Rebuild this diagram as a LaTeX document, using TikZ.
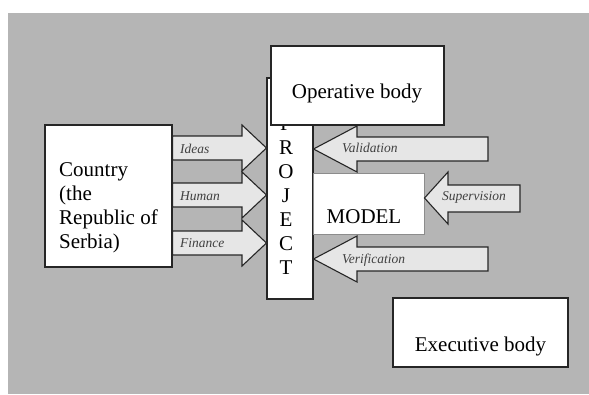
\documentclass[tikz,border=0pt]{standalone}
\usepackage{fontspec}
\setmainfont{Liberation Serif}
\definecolor{bggray}{HTML}{B5B5B5}
\definecolor{arrowgray}{HTML}{E6E6E6}
\definecolor{labelgray}{HTML}{404040}
\tikzset{
  box/.style={draw=black!85, line width=1.1pt, fill=white, inner sep=0pt},
  modelbox/.style={draw=black!45, line width=1pt, fill=white, inner sep=0pt},
  blockarrow/.style={draw=black!85, line width=1.1pt, fill=arrowgray, line join=miter},
  bigtext/.style={font=\fontsize{21}{24}\selectfont, inner sep=0pt},
  arrowtext/.style={font=\fontsize{13.5}{15}\selectfont\itshape, text=labelgray, inner sep=0pt, anchor=base west}
}
\begin{document}
\begin{tikzpicture}[x=1pt, y=-1pt]
      \useasboundingbox (0,0) rectangle (589,394);
      \fill[bggray] (8,13) rectangle (589,394);

      \node[box, minimum width=127pt, minimum height=142pt] (country) at (108.5,196) {};
      \node[bigtext, align=left, anchor=north west] (countrytext) at (59,162.8)
        {Country\\(the\\Republic of\\Serbia)};

      \node[box, minimum width=46pt, minimum height=221pt] (project) at (290,188.5) {};
      \node[bigtext, align=center, anchor=north] (projecttext) at (286,116.1)
        {P\\R\\O\\J\\E\\C\\T};

      \node[box, minimum width=173pt, minimum height=79pt] (operative) at (357.5,85.5) {};
      \node[bigtext, anchor=base] (operativetext) at (357,98) {Operative body};

      \node[modelbox, minimum width=111pt, minimum height=61pt] (model) at (368.5,203.5) {};
      \node[bigtext, anchor=base] (modeltext) at (364,223) {MODEL};

      \node[box, minimum width=175pt, minimum height=69pt] (executive) at (480.5,332.5) {};
      \node[bigtext, anchor=base] (executivetext) at (480.5,351) {Executive body};

      % inputs into the project
      \filldraw[blockarrow] (country.east |- 0,136) -| (242,125) -- (project.west |- 0,148)
        -- (242,171) |- (country.east |- 0,160) -- cycle;
      \filldraw[blockarrow] (country.east |- 0,183) -| (242,172) -- (project.west |- 0,195)
        -- (242,218) |- (country.east |- 0,207) -- cycle;
      \filldraw[blockarrow] (country.east |- 0,231) -| (242,220) -- (project.west |- 0,243)
        -- (242,266) |- (country.east |- 0,255) -- cycle;
      \node[arrowtext] (ideas) at (180,153) {Ideas};
      \node[arrowtext] (human) at (180,200) {Human};
      \node[arrowtext] (finance) at (180,247) {Finance};

      % controls
      \filldraw[blockarrow] (488,137) -| (357,126) -- (project.east |- 0,149)
        -- (357,172) |- (488,161) -- cycle;
      \filldraw[blockarrow] (520,185) -| (448,172) -- (model.east |- 0,198)
        -- (448,224) |- (520,212) -- cycle;
      \filldraw[blockarrow] (488,247) -| (357,236) -- (project.east |- 0,259)
        -- (357,282) |- (488,271) -- cycle;
      \node[arrowtext] (validation) at (342,152) {Validation};
      \node[arrowtext] (supervision) at (442,200) {Supervision};
      \node[arrowtext] (verification) at (342,263) {Verification};

    \end{tikzpicture}
\end{document}
